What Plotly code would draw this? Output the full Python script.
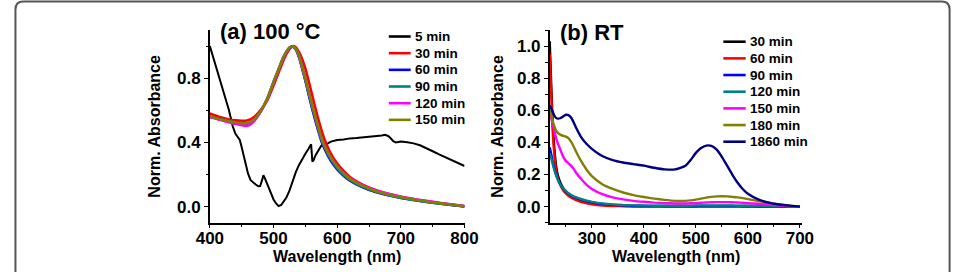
import plotly.graph_objects as go

W, H = 967, 272

# ---------------- Panel (a): 100 C ----------------
wl_a = [400, 410, 420, 430, 440, 450, 460, 470, 480, 490, 500, 505, 510, 515, 520, 525,
        530, 535, 540, 545, 550, 555, 560, 565, 570, 575, 580, 590, 600, 610, 620, 640,
        660, 680, 700, 725, 750, 775, 800]
a_30 = [0.580, 0.566, 0.553, 0.543, 0.537, 0.534, 0.538, 0.560, 0.603, 0.660, 0.755, 0.805,
        0.855, 0.905, 0.948, 0.980, 0.999, 0.992, 0.962, 0.918, 0.860, 0.785, 0.705, 0.625,
        0.550, 0.480, 0.420, 0.330, 0.268, 0.222, 0.185, 0.137, 0.104, 0.080, 0.061, 0.043,
        0.028, 0.014, 0.002]
a_60 = [0.560, 0.550, 0.540, 0.531, 0.523, 0.517, 0.518, 0.542, 0.595, 0.670, 0.775, 0.825,
        0.875, 0.925, 0.962, 0.990, 0.998, 0.978, 0.930, 0.860, 0.785, 0.700, 0.620, 0.545,
        0.475, 0.410, 0.360, 0.285, 0.232, 0.193, 0.162, 0.120, 0.091, 0.071, 0.054, 0.038,
        0.024, 0.012, 0.001]
a_90 = [0.560, 0.550, 0.540, 0.531, 0.523, 0.517, 0.518, 0.542, 0.595, 0.670, 0.775, 0.825,
        0.875, 0.925, 0.962, 0.990, 0.998, 0.980, 0.935, 0.865, 0.790, 0.710, 0.630, 0.555,
        0.485, 0.420, 0.370, 0.295, 0.240, 0.199, 0.167, 0.124, 0.095, 0.074, 0.056, 0.039,
        0.025, 0.013, 0.002]
a_120 = [0.558, 0.547, 0.536, 0.525, 0.515, 0.507, 0.505, 0.535, 0.592, 0.668, 0.773, 0.823,
         0.873, 0.923, 0.960, 0.989, 0.998, 0.982, 0.940, 0.870, 0.800, 0.720, 0.642, 0.566,
         0.496, 0.432, 0.381, 0.306, 0.251, 0.209, 0.176, 0.133, 0.102, 0.080, 0.062, 0.045,
         0.030, 0.016, 0.003]
a_150 = [0.562, 0.551, 0.541, 0.532, 0.525, 0.520, 0.522, 0.545, 0.597, 0.672, 0.777, 0.827,
         0.877, 0.927, 0.964, 0.991, 0.999, 0.983, 0.940, 0.870, 0.800, 0.720, 0.645, 0.570,
         0.500, 0.430, 0.380, 0.305, 0.250, 0.206, 0.173, 0.129, 0.098, 0.076, 0.058, 0.041,
         0.027, 0.014, 0.002]
wl_a5 = [400, 405, 410, 415, 420, 425, 430, 436, 440, 444, 447, 450, 453, 456, 460, 464, 468,
         472, 476, 479, 482, 484, 486, 488, 492, 496, 500, 504, 508, 512, 516, 520, 525, 530,
         535, 540, 545, 550, 555, 559, 561, 563, 566, 570, 575, 580, 585, 590, 595, 600, 610,
         620, 630, 640, 650, 660, 670, 675, 680, 684, 688, 692, 700, 710, 720, 730, 740, 750,
         760, 770, 780, 790, 800]
a_5 = [1.000, 0.935, 0.868, 0.805, 0.740, 0.680, 0.600, 0.500, 0.455, 0.432, 0.415, 0.370,
       0.320, 0.270, 0.205, 0.165, 0.150, 0.138, 0.127, 0.128, 0.165, 0.196, 0.180, 0.160,
       0.120, 0.080, 0.045, 0.020, 0.003, 0.010, 0.030, 0.055, 0.100, 0.165, 0.215, 0.260,
       0.300, 0.330, 0.360, 0.388, 0.280, 0.290, 0.320, 0.350, 0.380, 0.392, 0.393, 0.405,
       0.410, 0.415, 0.418, 0.425, 0.427, 0.431, 0.432, 0.438, 0.443, 0.448, 0.440, 0.426,
       0.408, 0.400, 0.405, 0.401, 0.394, 0.382, 0.365, 0.345, 0.325, 0.306, 0.286, 0.270,
       0.253]
a_names = ["5 min", "30 min", "60 min", "90 min", "120 min", "150 min"]
a_colors = ["#000000", "#FF0000", "#0000FF", "#008080", "#FF00FF", "#808000"]

# ---------------- Panel (b): RT ----------------
wl_b = [219, 222, 225, 228, 231, 235, 240, 245, 250, 255, 260, 265, 270, 280, 290, 300, 320,
        340, 360, 380, 400, 420, 440, 460, 480, 490, 500, 510, 520, 530, 540, 550, 560, 570,
        580, 590, 600, 620, 640, 660, 680, 700]
b_30 = [1.030, 0.750, 0.500, 0.360, 0.260, 0.190, 0.145, 0.115, 0.095, 0.080, 0.068, 0.058,
        0.050, 0.038, 0.028, 0.022, 0.013, 0.008, 0.005, 0.003, 0.002, 0.002, 0.002, 0.002,
        0.002, 0.002, 0.002, 0.002, 0.002, 0.002, 0.002, 0.002, 0.002, 0.002, 0.002, 0.002,
        0.002, 0.001, 0.001, 0.001, 0.000, 0.000]
b_60 = [0.950, 0.700, 0.450, 0.320, 0.230, 0.170, 0.130, 0.100, 0.082, 0.068, 0.057, 0.048,
        0.040, 0.028, 0.020, 0.014, 0.007, 0.004, 0.002, 0.001, 0.001, 0.001, 0.001, 0.001,
        0.001, 0.001, 0.001, 0.001, 0.001, 0.001, 0.001, 0.001, 0.001, 0.001, 0.001, 0.001,
        0.001, 0.000, 0.000, 0.000, 0.000, 0.000]
b_90 = [0.370, 0.325, 0.275, 0.235, 0.203, 0.168, 0.135, 0.111, 0.093, 0.080, 0.070, 0.061,
        0.054, 0.043, 0.034, 0.027, 0.017, 0.011, 0.008, 0.006, 0.005, 0.005, 0.004, 0.004,
        0.004, 0.004, 0.004, 0.005, 0.005, 0.005, 0.005, 0.005, 0.005, 0.005, 0.005, 0.004,
        0.004, 0.003, 0.002, 0.001, 0.001, 0.000]
b_120 = [0.330, 0.300, 0.262, 0.228, 0.197, 0.166, 0.136, 0.113, 0.096, 0.083, 0.073, 0.064,
         0.057, 0.046, 0.037, 0.030, 0.020, 0.014, 0.010, 0.008, 0.007, 0.006, 0.006, 0.006,
         0.006, 0.006, 0.007, 0.007, 0.007, 0.007, 0.007, 0.007, 0.007, 0.007, 0.006, 0.006,
         0.006, 0.005, 0.003, 0.002, 0.001, 0.000]
b_150 = [0.580, 0.550, 0.510, 0.470, 0.430, 0.390, 0.350, 0.310, 0.285, 0.270, 0.255, 0.235,
         0.210, 0.170, 0.135, 0.110, 0.078, 0.058, 0.045, 0.036, 0.030, 0.025, 0.022, 0.020,
         0.020, 0.021, 0.022, 0.024, 0.026, 0.027, 0.028, 0.028, 0.028, 0.027, 0.026, 0.024,
         0.022, 0.018, 0.013, 0.008, 0.004, 0.000]
b_180 = [0.600, 0.570, 0.530, 0.500, 0.475, 0.458, 0.447, 0.441, 0.436, 0.426, 0.405, 0.375,
         0.340, 0.280, 0.230, 0.190, 0.140, 0.110, 0.088, 0.072, 0.060, 0.050, 0.042, 0.036,
         0.036, 0.039, 0.044, 0.050, 0.056, 0.061, 0.064, 0.065, 0.064, 0.061, 0.058, 0.053,
         0.047, 0.035, 0.024, 0.014, 0.006, 0.000]
b_1860 = [0.630, 0.612, 0.588, 0.566, 0.553, 0.548, 0.552, 0.562, 0.572, 0.570, 0.555, 0.525,
          0.490, 0.430, 0.390, 0.360, 0.315, 0.290, 0.275, 0.265, 0.255, 0.242, 0.232, 0.232,
          0.255, 0.290, 0.335, 0.365, 0.380, 0.378, 0.355, 0.310, 0.255, 0.200, 0.150, 0.110,
          0.080, 0.045, 0.025, 0.013, 0.006, 0.000]
b_names = ["30 min", "60 min", "90 min", "120 min", "150 min", "180 min", "1860 min"]
b_colors = ["#000000", "#FF0000", "#0000FF", "#008080", "#FF00FF", "#808000", "#000080"]

FONT = "Liberation Sans, Arial, Helvetica, sans-serif"


def px(x):
    return x / W


def py(y):
    return 1 - y / H


fig = go.Figure()

a_series = [(wl_a5, a_5), (wl_a, a_30), (wl_a, a_60), (wl_a, a_90), (wl_a, a_120), (wl_a, a_150)]
for i, ((xs, ys), name, col) in enumerate(zip(a_series, a_names, a_colors)):
    fig.add_trace(go.Scatter(
        x=xs, y=ys, name=name, mode="lines", xaxis="x", yaxis="y", showlegend=False,
        line=dict(color=col, width=2 if i == 0 else 2.6,
                  shape="linear" if i == 0 else "spline", smoothing=0.8)))

b_series = [b_30, b_60, b_90, b_120, b_150, b_180, b_1860]
for ys, name, col in zip(b_series, b_names, b_colors):
    fig.add_trace(go.Scatter(
        x=wl_b, y=ys, name=name, mode="lines", xaxis="x2", yaxis="y2", showlegend=False,
        line=dict(color=col, width=2.4, shape="spline", smoothing=0.5)))

axis_common = dict(
    showline=True, linecolor="black", linewidth=1.5, ticks="outside", ticklen=4,
    tickwidth=1.3, tickcolor="black", showgrid=False, zeroline=False,
    tickfont=dict(family=FONT, size=17, color="black", weight="bold"),
)
minor_common = dict(ticks="outside", ticklen=2.5, tickwidth=1.1, tickcolor="black", showgrid=False)
title_font = dict(family=FONT, size=16, color="black", weight="bold")

ydom = [py(222.7), py(30)]
fig.update_layout(
    width=W, height=H, margin=dict(l=0, r=0, t=0, b=0),
    paper_bgcolor="white", plot_bgcolor="white", showlegend=False,
    xaxis=dict(domain=[px(201.7), px(464)], range=[400, 800], dtick=100, tick0=400,
               minor=dict(dtick=50, **minor_common), anchor="y", ticklabelstandoff=-5,
               title=dict(text="Wavelength (nm)", standoff=3, font=title_font),
               **axis_common),
    yaxis=dict(domain=ydom, range=[-0.1, 1.1], dtick=0.4, tick0=0, tickformat=".1f",
               minor=dict(dtick=0.2, **minor_common), anchor="x",
               title=dict(text="Norm. Absorbance", standoff=12, font=title_font),
               **axis_common),
    xaxis2=dict(domain=[px(551.7), px(812)], range=[219, 705], dtick=100, tick0=300,
                minor=dict(dtick=50, tick0=250, **minor_common), anchor="y2", ticklabelstandoff=-5,
                title=dict(text="Wavelength (nm)", standoff=3, font=title_font),
                **axis_common),
    yaxis2=dict(domain=ydom, range=[-0.1, 1.1], dtick=0.2, tick0=0, tickformat=".1f",
                minor=dict(dtick=0.1, **minor_common), anchor="x2",
                title=dict(text="Norm. Absorbance", standoff=9, font=title_font),
                **axis_common),
)

annotations = [
    dict(text="(a) 100 °C", x=px(210.5), y=py(31), xref="paper", yref="paper",
         xanchor="left", yanchor="middle", showarrow=False,
         font=dict(family=FONT, size=22, color="black", weight="bold")),
    dict(text="(b) RT", x=px(560.5), y=py(32), xref="paper", yref="paper",
         xanchor="left", yanchor="middle", showarrow=False,
         font=dict(family=FONT, size=22, color="black", weight="bold")),
]
shapes = []


# legends (swatch + label), built from the series lists
def add_legend(names, colors, x0, x1, xt, y0, step):
    for k, (n, c) in enumerate(zip(names, colors)):
        yy = y0 + k * step
        shapes.append(dict(type="line", xref="paper", yref="paper",
                           x0=px(x0), x1=px(x1), y0=py(yy), y1=py(yy),
                           line=dict(color=c, width=2.6)))
        annotations.append(dict(text=n, x=px(xt), y=py(yy), xref="paper", yref="paper",
                                xanchor="left", yanchor="middle", showarrow=False,
                                font=dict(family=FONT, size=13.5, color="black", weight="bold")))


add_legend(a_names, a_colors, 386, 408.5, 410.5, 36.5, 16.67)
add_legend(b_names, b_colors, 730.5, 753.5, 755.5, 41.7, 16.67)

# rounded figure frame
r = 8
x0f, x1f, y0f = 1.5, 963.5, 1.5
frame = (f"M {px(x0f)},{py(300)} L {px(x0f)},{py(y0f + r)} "
         f"Q {px(x0f)},{py(y0f)} {px(x0f + r)},{py(y0f)} "
         f"L {px(x1f - r)},{py(y0f)} Q {px(x1f)},{py(y0f)} {px(x1f)},{py(y0f + r)} "
         f"L {px(x1f)},{py(300)}")
shapes.append(dict(type="path", xref="paper", yref="paper", path=frame,
                   line=dict(color="#555555", width=2)))

fig.update_layout(annotations=annotations, shapes=shapes)
fig.write_html("out.html")
